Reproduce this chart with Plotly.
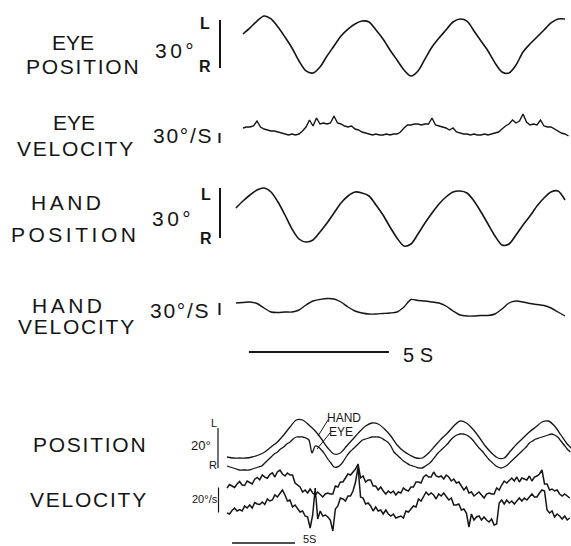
import numpy as np
import plotly.graph_objects as go

W, H = 571, 546

# ---------------- upper record (sinusoidal target, ~0.29 Hz) ----------------
# eye position, degrees (+ = left), sampled every 0.25 s from t = 0.25 s
EYE_POS_T0, EYE_POS_DT = 0.25, 0.25
eye_pos_deg = [
    7.5, 11.3, 15.6, 18.75, 16.9, 11.9, 5.6, -1.25, -9.4, -15.6,
    -16.9, -13.1, -6.25, 0.0, 6.25, 10.6, 13.75, 15.6, 15.0, 10.0,
    4.4, -2.5, -8.75, -15.0, -18.75, -15.6, -8.1, -0.6, 5.0, 10.0,
    15.0, 16.9, 15.6, 9.4, 3.1, -3.1, -10.6, -16.25, -16.9, -11.9,
    -3.75, 1.25, 5.6, 10.0, 14.4, 16.9, 16.9,
]

# eye velocity, deg/s, sampled every 0.125 s from t = 0.25 s
EYE_VEL_T0, EYE_VEL_DT = 0.25, 0.125
eye_vel_dps = [
    0, 3, 3, 6, 21, 3, -3, -6, -9, -9,
    -12, -15, -18, -21, -18, -21, -18, -9, 3, 24,
    6, 30, 12, 15, 12, 15, 36, 15, 12, 6,
    3, 6, -3, -6, -12, -15, -18, -21, -18, -21,
    -21, -18, -21, -18, -18, -12, 0, 9, 9, 12,
    12, 9, 12, 12, 30, 9, 6, 3, 0, -6,
    0, -12, -15, -18, -18, -21, -18, -21, -21, -18,
    -21, -18, -15, -12, -3, 6, 12, 24, 15, 21,
    42, 18, 9, 12, 9, 24, 6, 3, 3, -3,
    -9, -15, -18, -24,
]

# hand position, degrees, sampled every 0.25 s from t = 0
HAND_POS_T0, HAND_POS_DT = 0.0, 0.25
hand_pos_deg = [
    6.0, 10.2, 13.8, 16.8, 18.0, 15.6, 9.6, 1.8, -6.6, -12.6,
    -14.4, -13.2, -8.4, -3.0, 3.0, 9.0, 13.2, 15.6, 15.0, 13.2,
    7.8, 1.8, -5.4, -12.0, -16.8, -15.6, -9.6, -3.0, 3.0, 8.4,
    12.6, 15.6, 16.2, 15.0, 10.2, 3.6, -3.6, -10.8, -16.2, -15.6,
    -10.2, -4.2, 1.2, 7.2, 12.0, 15.6, 16.2, 10.8,
]

# hand velocity, deg/s, sampled every 0.25 s from t = 0
HAND_VEL_T0, HAND_VEL_DT = 0.0, 0.25
hand_vel_dps = [
    12.5, 13.75, 15.0, 11.25, 0.0, -10.0, -11.25, -10.0, -10.0, -5.0,
    7.5, 17.5, 21.25, 23.75, 22.5, 15.0, 2.5, -7.5, -12.5, -15.0,
    -15.0, -13.75, -12.5, -10.0, 2.5, 21.25, 18.75, 17.5, 15.0, 12.5,
    5.0, -7.5, -17.5, -20.0, -20.0, -18.75, -18.75, -15.0, -2.5, 12.5,
    17.5, 15.0, 11.25, 8.75, 6.25, 0.0, -10.0, -20.0,
]

# ---------------- lower record (patient, combined traces) ----------------
LOW_HAND_POS_DT = 0.5
low_hand_pos_deg = [
    -6.0, -6.5, -6.5, -6.5, -6.0, -5.0, -3.5, -1.0, 1.5, 5.0,
    9.0, 12.5, 12.5, 10.0, 7.0, 3.0, -1.5, -4.5, -4.0, -0.5,
    3.0, 6.5, 9.5, 11.0, 10.5, 8.0, 4.5, 0.0, -3.0, -5.0,
    -6.5, -6.5, -4.0, -0.5, 3.0, 6.0, 9.5, 12.0, 11.0, 8.0,
    4.0, -0.5, -4.0, -6.5, -6.5, -3.0, 0.5, 3.5, 6.5, 9.0,
    11.5, 12.0, 9.5, 5.0, 0.5, -2.5,
]

LOW_EYE_POS_DT = 0.25
low_eye_pos_deg = [
    -10.5, -11.0, -11.5, -12.0, -12.5, -12.5, -12.5, -12.5, -12.0, -11.5,
    -11.0, -10.5, -9.0, -7.5, -6.0, -4.5, -3.5, -2.0, -1.0, 0.5,
    1.5, 3.0, 4.0, 4.0, 4.0, 3.5, 2.5, -4.0, -0.5, -1.0,
    -2.5, -4.5, -7.0, -9.0, -11.0, -11.0, -10.0, -8.0, -5.5, -3.5,
    -2.0, -0.5, 1.0, 2.5, 3.0, 3.5, 4.0, 4.0, 4.0, 3.5,
    2.5, 1.5, -0.5, -3.5, -5.0, -6.5, -8.0, -9.0, -10.0, -10.5,
    -11.0, -11.5, -11.5, -10.5, -9.5, -8.0, -6.0, -4.0, -2.5, -1.0,
    0.5, 2.5, 4.0, 5.0, 5.5, 5.5, 5.0, 4.0, 2.5, 0.5,
    -1.5, -3.0, -5.0, -7.0, -8.5, -10.0, -11.0, -11.5, -11.0, -10.0,
    -8.5, -7.0, -5.5, -4.0, -2.5, -1.0, 1.0, 2.0, 3.0, 3.5,
    4.0, 4.5, 5.0, 5.5, 5.0, 4.0, 2.0, 0.0, -2.0, -3.5,
]

LOW_VEL_DT = 0.2
low_hand_vel_dps = [
    -2.4, 0.4, -0.8, -2.0, 0.8, 2.8, 0.0, -0.4, 3.2, 2.0,
    0.8, 4.6, 6.1, 4.2, 8.1, 6.3, 5.4, 8.3, 9.8, 6.4,
    10.4, 12.0, 8.8, 7.2, 9.6, 8.0, 8.0, 1.6, 0.0, -1.6,
    -5.6, -4.0, -6.4, -3.2, -6.4, -8.0, -5.6, -8.0, -9.6, -7.2,
    -6.4, -7.2, -7.2, -0.8, -1.6, 2.4, 2.4, 5.6, 8.8, 8.0,
    10.4, 12.8, 16.8, 5.6, 7.2, 2.4, 4.0, 4.0, -0.8, -0.8,
    -4.0, -1.6, -4.8, -7.2, -4.8, -6.4, -4.8, -8.0, -5.6, -6.4,
    -2.4, -4.0, -4.8, -1.6, -1.6, 2.4, 2.4, 1.6, 6.4, 8.0,
    6.4, 6.4, 10.4, 7.2, 6.4, 7.2, 4.8, 8.0, 6.4, 3.2,
    4.8, 1.6, 2.4, -0.8, -4.0, -1.6, -6.4, -5.6, -8.8, -7.2,
    -5.6, -8.0, -10.4, -7.2, -6.4, -7.2, -7.2, -2.4, -4.0, 0.0,
    3.2, 1.6, 4.0, 5.6, 3.2, 6.4, 2.4, 5.6, 4.8, 4.0,
    7.2, 3.2, 6.4, 7.2, 8.8, 12.0, 0.8, 0.8, -4.0, -3.2,
    -4.8, -4.0, -7.2, -8.8, -7.2, -8.8, -10.4,
]
low_eye_vel_dps = [
    -2.4, -3.2, -0.4, 1.6, -0.8, 0.4, -0.8, 3.2, 1.6, 4.0,
    1.6, 6.0, 4.8, 4.4, 6.4, 4.4, 8.8, 7.2, 8.0, 12.0,
    10.4, 12.8, 16.0, 12.0, 7.2, 8.0, 2.4, 4.0, 1.6, -1.6,
    -0.8, -4.8, -5.6, -14.4, -4.0, 17.6, -7.2, -0.8, -4.8, -4.0,
    -5.6, -8.0, -16.8, 0.8, 3.2, 9.6, 8.8, 7.2, 11.2, 11.2,
    15.2, 22.4, 34.4, 10.4, 9.6, 4.8, 5.6, 3.2, -0.8, 2.4,
    -0.8, 0.0, -3.2, 0.0, -3.2, -4.8, -3.2, -6.4, -5.6, -4.8,
    -6.4, -0.8, -1.6, 0.8, 3.2, 2.4, 8.8, 7.2, 10.4, 14.4,
    12.0, 13.6, 12.0, 8.8, 12.8, 11.2, 13.6, 11.2, 8.0, 9.6,
    4.0, 4.0, 4.8, 0.0, 0.8, -2.4, -13.6, -3.2, -8.0, -5.6,
    -4.8, -8.0, -5.6, -8.0, -9.6, -7.2, -12.0, -11.2, 5.6, 8.0,
    4.8, 8.0, 5.6, 7.2, 4.8, 7.2, 9.6, 7.2, 9.6, 8.0,
    10.4, 12.8, 10.4, 10.4, 13.6, 16.0, 15.2, 0.0, -2.4, -0.8,
    -5.6, -3.2, -4.8, -7.2, -4.8, -8.0, -6.4,
]

# calibration bars
UP_POS_BAR, UP_VEL_BAR, UP_TIME_BAR = 30, 30, 5
LOW_POS_BAR, LOW_VEL_BAR, LOW_TIME_BAR = 20, 20, 5


def times(values, t0, dt):
    return t0 + dt * np.arange(len(values))


# ---- page geometry (pixels) ----
def px(x):
    return x / W


def py(y):
    return 1 - y / H


def xrange_for(x0_px, px_per_s):
    return [-x0_px / px_per_s, (W - x0_px) / px_per_s]


def yrange_for(center_px, px_per_unit):
    return [(center_px - H) / px_per_unit, center_px / px_per_unit]


INK = "#151515"
FONT = "Liberation Sans, Arial, sans-serif"

fig = go.Figure()

traces = [
    (times(eye_pos_deg, EYE_POS_T0, EYE_POS_DT), eye_pos_deg, "x", "y", "spline", 1.6),
    (times(eye_vel_dps, EYE_VEL_T0, EYE_VEL_DT), eye_vel_dps, "x", "y2", "linear", 1.4),
    (times(hand_pos_deg, HAND_POS_T0, HAND_POS_DT), hand_pos_deg, "x", "y3", "spline", 1.6),
    (times(hand_vel_dps, HAND_VEL_T0, HAND_VEL_DT), hand_vel_dps, "x", "y4", "spline", 1.4),
    (times(low_hand_pos_deg, 0.0, LOW_HAND_POS_DT), low_hand_pos_deg, "x2", "y5", "spline", 1.3),
    (times(low_eye_pos_deg, 0.0, LOW_EYE_POS_DT), low_eye_pos_deg, "x2", "y6", "spline", 1.3),
    (times(low_hand_vel_dps, 0.0, LOW_VEL_DT), low_hand_vel_dps, "x2", "y7", "linear", 1.5),
    (times(low_eye_vel_dps, 0.0, LOW_VEL_DT), low_eye_vel_dps, "x2", "y8", "linear", 1.5),
]
for t, v, xa, ya, shape, lw in traces:
    line = dict(color=INK, width=lw, shape=shape)
    if shape == "spline":
        line["smoothing"] = 0.8
    fig.add_trace(go.Scatter(x=t, y=v, xaxis=xa, yaxis=ya, mode="lines",
                             line=line, hoverinfo="skip", showlegend=False))

hidden = dict(visible=False, showgrid=False, zeroline=False, fixedrange=True)
layout_axes = {
    "xaxis": dict(range=xrange_for(236, 28.0), domain=[0, 1], **hidden),
    "xaxis2": dict(range=xrange_for(227, 12.6), overlaying="x", **hidden),
    "yaxis": dict(range=yrange_for(46, 1.6), domain=[0, 1], **hidden),
    "yaxis2": dict(range=yrange_for(128, 1 / 3), overlaying="y", **hidden),
    "yaxis3": dict(range=yrange_for(218, 1 / 0.6), overlaying="y", **hidden),
    "yaxis4": dict(range=yrange_for(308, 0.4), overlaying="y", **hidden),
    "yaxis5": dict(range=yrange_for(445, 2.0), overlaying="y", **hidden),
    "yaxis6": dict(range=yrange_for(445, 2.0), overlaying="y", **hidden),
    "yaxis7": dict(range=yrange_for(485, 1.25), overlaying="y", **hidden),
    "yaxis8": dict(range=yrange_for(510, 1.25), overlaying="y", **hidden),
}

shapes = []


def vbar(x_px, yref, lo, length, width=2):
    shapes.append(dict(type="line", xref="paper", yref=yref,
                       x0=px(x_px), x1=px(x_px), y0=lo, y1=lo + length,
                       line=dict(color=INK, width=width)))


def hbar(xref, t0, length, y_px, width=2):
    shapes.append(dict(type="line", xref=xref, yref="paper",
                       x0=t0, x1=t0 + length, y0=py(y_px), y1=py(y_px),
                       line=dict(color=INK, width=width)))


vbar(220, "y", -13.75, UP_POS_BAR)
vbar(219.5, "y2", -45, UP_VEL_BAR)
vbar(220, "y3", -12, UP_POS_BAR)
vbar(219.5, "y4", -17.5, UP_VEL_BAR)
vbar(218, "y6", -11.5, LOW_POS_BAR, width=1.2)
vbar(218.5, "y7", -22, LOW_VEL_BAR, width=1.2)
hbar("x", 0.46, UP_TIME_BAR, 352)
hbar("x2", 0.4, LOW_TIME_BAR, 543, width=1.5)

# leader lines for the HAND / EYE tags
for (xa, ya, xb, yb) in [(328, 420, 318, 436), (330, 433, 317, 449)]:
    shapes.append(dict(type="line", xref="paper", yref="paper",
                       x0=px(xa), y0=py(ya), x1=px(xb), y1=py(yb),
                       line=dict(color=INK, width=1)))

HS = "\u200a"  # hair space, used to open up the lettering


annotations = []


def label(text, xc, yc, size, gaps=0):
    shown = (HS * gaps).join(text) if gaps else text
    annotations.append(dict(text=shown,
                            x=px(xc), y=py(yc), xref="paper", yref="paper",
                            xanchor="center", yanchor="middle", showarrow=False,
                            font=dict(family=FONT, size=size, color=INK)))


def bold(text, xc, yc, size):
    annotations.append(dict(text="<b>%s</b>" % text,
                            x=px(xc), y=py(yc), xref="paper", yref="paper",
                            xanchor="center", yanchor="middle", showarrow=False,
                            font=dict(family=FONT, size=size, color=INK)))


label("EYE", 72.5, 42.5, 21, 0)
label("POSITION", 82.5, 66.5, 21, 1)
label("30°", 174, 50.5, 21, 2)
bold("L", 205, 24, 16)
bold("R", 205, 66, 16)
label("EYE", 73.5, 123, 21, 0)
label("VELOCITY", 75, 148.5, 21, 1)
label("30°/S", 182, 135.5, 21, 1)

label("HAND", 66, 202, 21, 2)
label("POSITION", 73, 234.5, 21, 2)
label("30°", 171, 218.5, 21, 2)
bold("L", 206, 194, 16)
bold("R", 206, 238.5, 16)
label("HAND", 67, 305, 21, 2)
label("VELOCITY", 76, 326.5, 21, 1)
label("30°/S", 180, 310, 21, 1)
label("5 S", 417.5, 355, 20)

label("POSITION", 89, 444.5, 21, 1)
label("VELOCITY", 88, 499.5, 21, 1)
label("L", 213.5, 423, 11)
label("20°", 201, 445, 13)
label("R", 213, 465, 11)
label("20°/s", 205, 499, 11)
label("HAND", 344, 418, 12)
label("EYE", 341, 432, 12)
label("5S", 309, 539, 11)

fig.update_layout(
    width=W, height=H,
    margin=dict(l=0, r=0, t=0, b=0),
    paper_bgcolor="white", plot_bgcolor="white",
    showlegend=False,
    shapes=shapes, annotations=annotations,
    **layout_axes,
)

fig.write_html("out.html", config={"staticPlot": True})
